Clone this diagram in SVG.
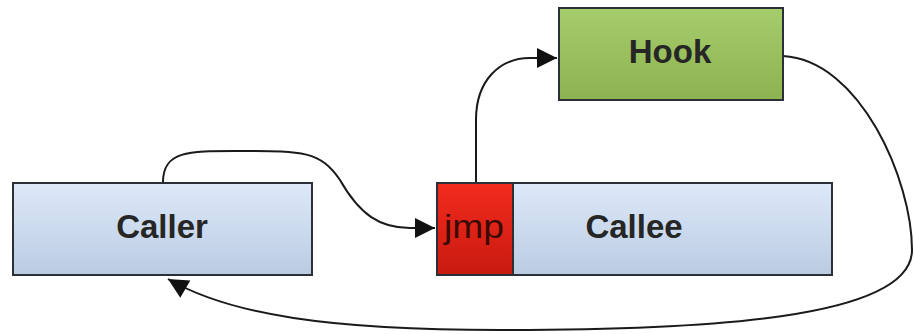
<svg xmlns="http://www.w3.org/2000/svg" width="914" height="334" viewBox="0 0 914 334">
  <style>
    .box { stroke: #2b2f36; stroke-width: 2; }
    .label { font-family: "Liberation Sans", Arial, sans-serif; font-weight: bold; font-size: 33px; fill: #262626; text-anchor: middle; }
    .wire { fill: none; stroke: #1a1a1a; stroke-width: 2; }
  </style>
  <defs>
    <linearGradient id="blue" x1="0" y1="0" x2="0" y2="1">
      <stop offset="0" stop-color="#dde9f9"/>
      <stop offset="1" stop-color="#bacbe2"/>
    </linearGradient>
    <linearGradient id="green" x1="0" y1="0" x2="0" y2="1">
      <stop offset="0" stop-color="#a6cd6c"/>
      <stop offset="1" stop-color="#8db250"/>
    </linearGradient>
    <linearGradient id="red" x1="0" y1="0" x2="0" y2="1">
      <stop offset="0" stop-color="#f22b1e"/>
      <stop offset="1" stop-color="#c91a10"/>
    </linearGradient>
    <marker id="arrow" viewBox="0 0 10 10" refX="10" refY="5" markerWidth="15" markerHeight="10" markerUnits="userSpaceOnUse" orient="auto">
      <path d="M0,0 L10,5 L0,10 z" fill="#111"/>
    </marker>
    <marker id="arrowBig" viewBox="0 0 10 10" refX="10" refY="5" markerWidth="30" markerHeight="20" markerUnits="userSpaceOnUse" orient="auto">
      <path d="M0,0 L10,5 L0,10 z" fill="#111"/>
    </marker>
  </defs>

  <g id="connectors">
    <path class="wire" d="M163,182 C163,150 190,151 240,151 C300,151 320,150 340,180 C360,215 380,228 410,228 L435,228" marker-end="url(#arrowBig)"/>
    <path class="wire" d="M476,182 L476,120 C476,80 500,58 530,58 L557,58" marker-end="url(#arrowBig)"/>
    <path class="wire" d="M783,56 C860,60 912,180 912,250 C912,320 700,330 500,330 C330,330 230,315 168,279" marker-end="url(#arrowBig)"/>
  </g>

  <g id="caller">
    <rect class="box" x="13" y="183" width="299" height="92" fill="url(#blue)"/>
    <text class="label" x="162" y="238">Caller</text>
  </g>

  <g id="callee">
    <rect class="box" x="437" y="183" width="395" height="92" fill="url(#blue)"/>
    <text class="label" x="634" y="238">Callee</text>
  </g>

  <g id="jmp">
    <rect class="box" x="437" y="183" width="76" height="92" fill="url(#red)"/>
    <text class="label" x="474" y="238" style="font-weight:normal; fill:#3a0a05" textLength="60" lengthAdjust="spacingAndGlyphs">jmp</text>
  </g>

  <g id="hook">
    <rect class="box" x="559" y="8" width="224" height="92" fill="url(#green)"/>
    <text class="label" x="670" y="63">Hook</text>
  </g>
</svg>
